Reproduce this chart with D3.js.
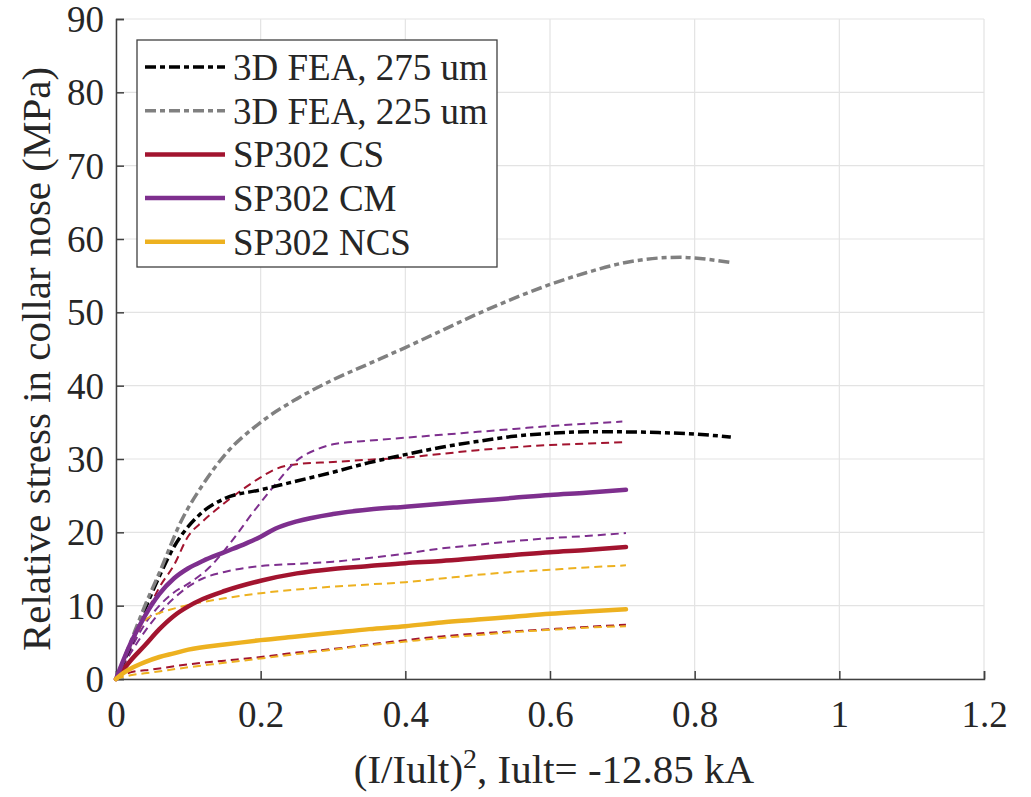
<!DOCTYPE html>
<html>
<head>
<meta charset="utf-8">
<script src="https://d3js.org/d3.v7.min.js"></script>
<style>
  html, body { margin: 0; padding: 0; background: #fff; }
  svg { display: block; }
  text { font-family: "Liberation Serif", "Times New Roman", serif; fill: #262626; }
</style>
</head>
<body>
<svg id="chart" width="1031" height="797"></svg>
<script>
// Axis ticks
const xTicks = [0, 0.2, 0.4, 0.6, 0.8, 1, 1.2];
const yTicks = [0, 10, 20, 30, 40, 50, 60, 70, 80, 90];

// 3D FEA, 275 um
const xFea275 = [0, 0.02, 0.04, 0.06, 0.08, 0.1, 0.12, 0.15, 0.2, 0.25, 0.3, 0.35, 0.4, 0.45, 0.5, 0.55, 0.6, 0.65, 0.7, 0.75, 0.8, 0.85];
const yFea275 = [0, 4.5, 9.5, 14, 18, 20.8, 22.8, 24.6, 25.8, 27, 28.2, 29.5, 30.6, 31.6, 32.4, 33.1, 33.5, 33.7, 33.7, 33.6, 33.4, 33];

// 3D FEA, 225 um
const xFea225 = [0, 0.02, 0.04, 0.06, 0.09, 0.12, 0.15, 0.2, 0.25, 0.3, 0.35, 0.4, 0.45, 0.5, 0.55, 0.6, 0.65, 0.7, 0.75, 0.78, 0.8, 0.85];
const yFea225 = [0, 5, 10, 14.5, 21.5, 26.5, 30.5, 35, 38.2, 40.8, 43, 45.2, 47.5, 49.8, 51.9, 53.8, 55.4, 56.7, 57.4, 57.5, 57.4, 56.8];

// SP302 CS (mean, solid) and its two bounding gauges (dashed)
const xCS = [0, 0.02, 0.04, 0.06, 0.08, 0.1, 0.12, 0.15, 0.2, 0.25, 0.3, 0.35, 0.4, 0.45, 0.5, 0.55, 0.6, 0.65, 0.705];
const yCS = [0, 2.5, 4.6, 6.8, 8.6, 9.9, 10.9, 12.0, 13.4, 14.4, 15.0, 15.4, 15.8, 16.1, 16.5, 16.9, 17.3, 17.6, 18.0];
const xCSHigh = [0, 0.02, 0.04, 0.06, 0.08, 0.1, 0.12, 0.15, 0.18, 0.2, 0.22, 0.25, 0.3, 0.35, 0.4, 0.45, 0.5, 0.55, 0.6, 0.65, 0.705];
const yCSHigh = [0, 4, 8.5, 12.5, 15.5, 19.5, 21.5, 24, 26.2, 27.5, 28.6, 29.3, 29.6, 29.9, 30.2, 30.7, 31.2, 31.6, 31.9, 32.1, 32.3];
const xCSLow = [0, 0.02, 0.05, 0.1, 0.15, 0.2, 0.25, 0.3, 0.35, 0.4, 0.45, 0.5, 0.55, 0.6, 0.65, 0.705];
const yCSLow = [0, 0.9, 1.3, 2.0, 2.5, 3.0, 3.6, 4.1, 4.7, 5.3, 5.8, 6.2, 6.5, 6.8, 7.1, 7.4];

// SP302 CM
const xCM = [0, 0.01, 0.02, 0.04, 0.06, 0.08, 0.1, 0.12, 0.15, 0.18, 0.2, 0.22, 0.25, 0.3, 0.35, 0.4, 0.45, 0.5, 0.55, 0.6, 0.65, 0.705];
const yCM = [0, 2.5, 4.8, 8.6, 11.6, 13.7, 15.1, 16.1, 17.3, 18.5, 19.4, 20.5, 21.5, 22.5, 23.1, 23.5, 23.9, 24.3, 24.7, 25.1, 25.4, 25.8];
const xCMHigh = [0, 0.02, 0.04, 0.06, 0.08, 0.1, 0.13, 0.16, 0.19, 0.22, 0.25, 0.28, 0.3, 0.35, 0.4, 0.45, 0.5, 0.55, 0.6, 0.65, 0.7];
const yCMHigh = [0, 4, 7.5, 10, 11.8, 13, 15.3, 18.8, 22.8, 26.5, 29.8, 31.4, 32, 32.5, 32.9, 33.3, 33.7, 34.1, 34.5, 34.8, 35.1];
const xCMLow = [0, 0.02, 0.04, 0.06, 0.08, 0.1, 0.12, 0.15, 0.2, 0.25, 0.3, 0.35, 0.4, 0.45, 0.5, 0.55, 0.6, 0.65, 0.705];
const yCMLow = [0, 3.5, 6.5, 9, 11, 12.6, 13.7, 14.6, 15.4, 15.7, 16.0, 16.5, 17.1, 17.8, 18.3, 18.8, 19.2, 19.5, 19.9];

// SP302 NCS
const xNCS = [0, 0.01, 0.02, 0.04, 0.06, 0.08, 0.1, 0.15, 0.2, 0.25, 0.3, 0.35, 0.4, 0.45, 0.5, 0.55, 0.6, 0.65, 0.705];
const yNCS = [0, 0.8, 1.4, 2.3, 3.0, 3.5, 4.0, 4.7, 5.3, 5.8, 6.3, 6.8, 7.2, 7.7, 8.1, 8.5, 8.9, 9.2, 9.5];
const xNCSHigh = [0, 0.01, 0.02, 0.03, 0.04, 0.06, 0.08, 0.1, 0.15, 0.2, 0.25, 0.3, 0.35, 0.4, 0.45, 0.5, 0.55, 0.6, 0.65, 0.705];
const yNCSHigh = [0, 2, 4.4, 6.5, 8.0, 9.0, 9.6, 10.1, 11.0, 11.7, 12.2, 12.6, 12.9, 13.2, 13.7, 14.2, 14.6, 14.9, 15.2, 15.5];
const xNCSLow = [0, 0.02, 0.05, 0.1, 0.15, 0.2, 0.25, 0.3, 0.35, 0.4, 0.45, 0.5, 0.55, 0.6, 0.65, 0.705];
const yNCSLow = [0, 0.5, 0.9, 1.6, 2.2, 2.8, 3.4, 4.0, 4.6, 5.1, 5.6, 6.0, 6.4, 6.7, 7.0, 7.2];

const legendLabels = ["3D FEA, 275 um", "3D FEA, 225 um", "SP302 CS", "SP302 CM", "SP302 NCS"];

const colBlack = "#000000", colGrey = "#808080", colRed = "#A2142F", colPurple = "#7E2F8E", colYellow = "#EDB120";

const svg = d3.select("#chart");
const m = { left: 116, right: 984, top: 19, bottom: 679 };

const x = d3.scaleLinear().domain([0, 1.2]).range([m.left, m.right]);
const y = d3.scaleLinear().domain([0, 90]).range([m.bottom, m.top]);

// Grid
const grid = svg.append("g");
grid.selectAll(".gx").data(xTicks).join("line")
  .attr("x1", d => x(d)).attr("x2", d => x(d))
  .attr("y1", m.top).attr("y2", m.bottom)
  .attr("stroke", "#e3e3e3").attr("stroke-width", 1.2);
grid.selectAll(".gy").data(yTicks).join("line")
  .attr("x1", m.left).attr("x2", m.right)
  .attr("y1", d => y(d)).attr("y2", d => y(d))
  .attr("stroke", "#e3e3e3").attr("stroke-width", 1.2);

// Axes (ticks point inward)
const xAxis = d3.axisBottom(x).tickValues(xTicks).tickSize(-8).tickPadding(22)
  .tickFormat(d => d3.format("~g")(d));
const yAxis = d3.axisLeft(y).tickValues(yTicks).tickSize(-8).tickPadding(12);

const gx = svg.append("g").attr("transform", `translate(0,${m.bottom})`).call(xAxis);
const gy = svg.append("g").attr("transform", `translate(${m.left},0)`).call(yAxis);
[gx, gy].forEach(g => {
  g.select(".domain").attr("stroke", "#404040").attr("stroke-width", 1.5);
  g.selectAll(".tick line").attr("stroke", "#404040").attr("stroke-width", 1.5);
  g.selectAll(".tick text").attr("font-family", "Liberation Serif").attr("font-size", 37).attr("fill", "#262626");
});
gx.selectAll(".tick text").attr("dy", "0.71em");
gy.selectAll(".tick text").attr("dy", "0.34em");

// Axis titles
svg.append("text")
  .attr("x", (m.left + m.right) / 2 + 4).attr("y", 783)
  .attr("text-anchor", "middle").attr("font-size", 41)
  .html('(I/Iult)<tspan baseline-shift="super" font-size="28">2</tspan>, Iult= -12.85 kA');
svg.append("text")
  .attr("transform", `translate(50,${(m.top + m.bottom) / 2 + 10}) rotate(-90)`)
  .attr("text-anchor", "middle").attr("font-size", 41)
  .text("Relative stress in collar nose (MPa)");

const line = d3.line().x(d => x(d[0])).y(d => y(d[1])).curve(d3.curveMonotoneX);
const pts = (xs, ys) => xs.map((v, i) => [v, ys[i]]);

const plot = svg.append("g");
const thinDash = "8,5";
const feaDash = "11,4,5,4";

// Gauge bounds (thin dashed)
[
  [xCSHigh, yCSHigh, colRed], [xCSLow, yCSLow, colRed],
  [xCMHigh, yCMHigh, colPurple], [xCMLow, yCMLow, colPurple],
  [xNCSHigh, yNCSHigh, colYellow], [xNCSLow, yNCSLow, colYellow]
].forEach(([xs, ys, c]) => {
  plot.append("path").attr("d", line(pts(xs, ys)))
    .attr("fill", "none").attr("stroke", c).attr("stroke-width", 2)
    .attr("stroke-dasharray", thinDash);
});

// FEA curves
[[xFea275, yFea275, colBlack], [xFea225, yFea225, colGrey]].forEach(([xs, ys, c]) => {
  plot.append("path").attr("d", line(pts(xs, ys)))
    .attr("fill", "none").attr("stroke", c).attr("stroke-width", 3.5)
    .attr("stroke-dasharray", feaDash);
});

// Measured means (solid)
[[xCS, yCS, colRed], [xCM, yCM, colPurple], [xNCS, yNCS, colYellow]].forEach(([xs, ys, c]) => {
  plot.append("path").attr("d", line(pts(xs, ys)))
    .attr("fill", "none").attr("stroke", c).attr("stroke-width", 4.5)
    .attr("stroke-linecap", "round");
});

// Legend
const leg = svg.append("g");
leg.append("rect").attr("x", 137).attr("y", 40).attr("width", 360).attr("height", 227)
  .attr("fill", "#fff").attr("stroke", "#404040").attr("stroke-width", 1.3);
const legStyles = [
  { c: colBlack, dash: feaDash, w: 3.5 },
  { c: colGrey, dash: feaDash, w: 3.5 },
  { c: colRed, dash: null, w: 4.5 },
  { c: colPurple, dash: null, w: 4.5 },
  { c: colYellow, dash: null, w: 4.5 }
];
legendLabels.forEach((lab, i) => {
  const cy = 67 + i * 43.7;
  leg.append("line").attr("x1", 145).attr("x2", 225).attr("y1", cy).attr("y2", cy)
    .attr("stroke", legStyles[i].c).attr("stroke-width", legStyles[i].w)
    .attr("stroke-dasharray", legStyles[i].dash);
  leg.append("text").attr("x", 233).attr("y", cy).attr("dy", "0.35em")
    .attr("font-size", 37).attr("fill", "#000").text(lab);
});
</script>
</body>
</html>
